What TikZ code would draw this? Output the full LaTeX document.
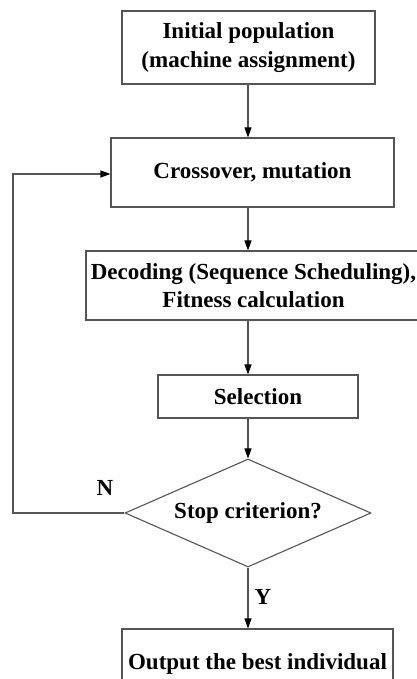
\documentclass[tikz,border=0pt]{standalone}
\usepackage{fontspec}
\setmainfont{Liberation Serif}
\usetikzlibrary{shapes.geometric,arrows.meta}
\definecolor{linegray}{HTML}{555555}
\tikzset{
  x=1pt,y=1pt,
  box/.style={draw=linegray,line width=1.1pt,rectangle,inner sep=0pt,align=center,
    font=\fontsize{23}{28.5}\selectfont\bfseries},
  dec/.style={draw=linegray,line width=1.1pt,diamond,inner sep=0pt,aspect=2.28,
    font=\fontsize{23}{28.5}\selectfont\bfseries},
  lbl/.style={font=\fontsize{23}{28.5}\selectfont\bfseries,inner sep=0pt},
  flow/.style={draw=linegray,line width=1.1pt,-{Triangle[length=10pt,width=7pt,color=black]}}
}
\begin{document}
\begin{tikzpicture}
\clip (0,0) rectangle (417,-679);
\fill[white] (0,0) rectangle (417,-679);
\node[box,minimum width=253,minimum height=73] (b1) at (248.5,-47.5) {Initial population\\(machine assignment)};
\node[box,minimum width=283,minimum height=69] (b2) at (252.5,-172.5) {Crossover, mutation};
\node[box,minimum width=335,minimum height=69] (b3) at (253.5,-285.5) {Decoding (Sequence Scheduling),\\Fitness calculation};
\node[box,minimum width=200,minimum height=43] (b4) at (258,-396.5) {Selection};
\node[dec,minimum width=246,minimum height=108] (d) at (248,-513) {Stop criterion?};
\node[box,minimum width=271,minimum height=70] (b5) at (257.5,-664) {Output the best individual};
\coordinate (ax) at (248,0);
\coordinate (loop) at (13,-174);
\draw[flow] (b1.south -| ax) -- (b2.north -| ax);
\draw[flow] (b2.south -| ax) -- (b3.north -| ax);
\draw[flow] (b3.south -| ax) -- (b4.north -| ax);
\draw[flow] (b4.south -| ax) -- (d.north);
\draw[flow] (d.south) -- (b5.north -| d.south);
\draw[flow] (d.west) -| (loop) -- (b2.west |- loop);
\node[lbl] (n) at (105,-488) {N};
\node[lbl] (y) at (263,-597) {Y};
\end{tikzpicture}
\end{document}
